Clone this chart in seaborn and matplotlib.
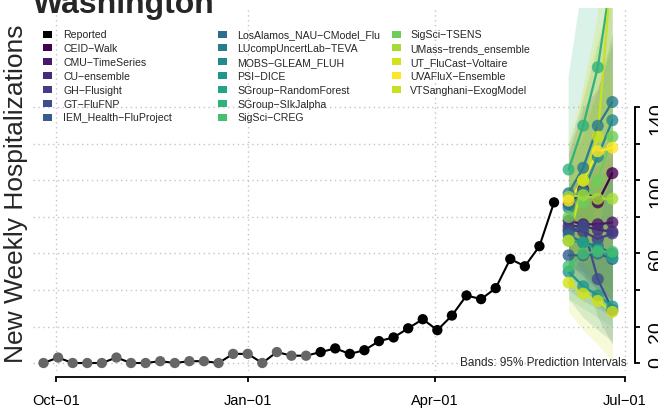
import numpy as np
import pandas as pd
import matplotlib
matplotlib.use("Agg")
import matplotlib.pyplot as plt
import matplotlib.dates as mdates
from matplotlib.patches import Rectangle
import seaborn as sns

# ---- data -------------------------------------------------------------
reported_start = "2021-09-25"
reported_values = [0, 3, 0, 0, 0, 3, 0, 0, 1, 0, 1, 1, 0, 5, 5, 0, 6, 4, 4, 6,
                   8, 5, 7, 12, 14, 19, 24, 18, 26, 37, 35, 41, 57, 53, 64, 88]
n_early_points = 19  # points drawn in grey at the start of the season

forecast_dates = ["2022-06-04", "2022-06-11", "2022-06-18", "2022-06-25"]

models = ["CEID-Walk", "CMU-TimeSeries", "CU-ensemble", "GH-Flusight", "GT-FluFNP",
          "IEM_Health-FluProject", "LosAlamos_NAU-CModel_Flu", "LUcompUncertLab-TEVA",
          "MOBS-GLEAM_FLUH", "PSI-DICE", "SGroup-RandomForest", "SGroup-SIkJalpha",
          "SigSci-CREG", "SigSci-TSENS", "UMass-trends_ensemble", "UT_FluCast-Voltaire",
          "UVAFluX-Ensemble", "VTSanghani-ExogModel"]

model_colors = ["#440154", "#481769", "#472A7A", "#433D84", "#3D4E8A", "#355E8D",
                "#2E6D8E", "#297B8E", "#23898E", "#1F978B", "#21A585", "#2EB37C",
                "#46C06F", "#6DCD59", "#A5DB36", "#D2E21B", "#FDE725", "#C8E020"]

forecast_median = {
    "CEID-Walk":                [87, 95, 88, 104],
    "CMU-TimeSeries":           [78, 76, 76, 77],
    "CU-ensemble":              [75, 75, 73, 72],
    "GH-Flusight":              [73, 72, 68, 71],
    "GT-FluFNP":                [72, 75, 46, 29],
    "IEM_Health-FluProject":    [59, 59, 60, 57],
    "LosAlamos_NAU-CModel_Flu": [70, 66, 64, 60],
    "LUcompUncertLab-TEVA":     [93, 107, 130, 143],
    "MOBS-GLEAM_FLUH":          [85, 94, 113, 133],
    "PSI-DICE":                 [50, 42, 37, 31],
    "SGroup-RandomForest":      [67, 66, 62, 58],
    "SGroup-SIkJalpha":         [106, 130, 162, 215],
    "SigSci-CREG":              [53, 60, 61, 61],
    "SigSci-TSENS":             [80, 88, 100, 124],
    "UMass-trends_ensemble":    [91, 92, 90, 90],
    "UT_FluCast-Voltaire":      [44, 38, 34, 28],
    "UVAFluX-Ensemble":         [89, 100, 116, 118],
    "VTSanghani-ExogModel":     [67, 100, 124, 222],
}
forecast_lower = {
    "CEID-Walk":                [62, 55, 45, 40],
    "CMU-TimeSeries":           [60, 50, 42, 35],
    "CU-ensemble":              [55, 48, 40, 34],
    "GH-Flusight":              [55, 47, 40, 35],
    "GT-FluFNP":                [52, 50, 25, 10],
    "IEM_Health-FluProject":    [40, 34, 30, 25],
    "LosAlamos_NAU-CModel_Flu": [50, 42, 36, 30],
    "LUcompUncertLab-TEVA":     [70, 75, 85, 90],
    "MOBS-GLEAM_FLUH":          [65, 68, 75, 82],
    "PSI-DICE":                 [35, 25, 18, 12],
    "SGroup-RandomForest":      [48, 40, 32, 25],
    "SGroup-SIkJalpha":         [80, 90, 100, 115],
    "SigSci-CREG":              [35, 30, 25, 20],
    "SigSci-TSENS":             [55, 55, 58, 62],
    "UMass-trends_ensemble":    [65, 55, 45, 35],
    "UT_FluCast-Voltaire":      [28, 18, 10, 1],
    "UVAFluX-Ensemble":         [60, 60, 62, 55],
    "VTSanghani-ExogModel":     [45, 60, 70, 110],
}
forecast_upper = {
    "CEID-Walk":                [115, 140, 150, 175],
    "CMU-TimeSeries":           [98, 104, 112, 120],
    "CU-ensemble":              [96, 102, 108, 114],
    "GH-Flusight":              [92, 98, 102, 108],
    "GT-FluFNP":                [92, 100, 70, 52],
    "IEM_Health-FluProject":    [80, 86, 92, 96],
    "LosAlamos_NAU-CModel_Flu": [90, 92, 96, 100],
    "LUcompUncertLab-TEVA":     [120, 145, 175, 200],
    "MOBS-GLEAM_FLUH":          [108, 125, 150, 180],
    "PSI-DICE":                 [66, 62, 60, 56],
    "SGroup-RandomForest":      [88, 94, 98, 102],
    "SGroup-SIkJalpha":         [157, 210, 260, 320],
    "SigSci-CREG":              [75, 90, 100, 110],
    "SigSci-TSENS":             [110, 130, 150, 180],
    "UMass-trends_ensemble":    [120, 135, 145, 160],
    "UT_FluCast-Voltaire":      [62, 60, 60, 58],
    "UVAFluX-Ensemble":         [125, 150, 180, 200],
    "VTSanghani-ExogModel":     [95, 150, 190, 330],
}

x_tick_dates = ["2021-10-01", "2022-01-01", "2022-04-01", "2022-07-01"]
x_tick_labels = ["Oct-01", "Jan-01", "Apr-01", "Jul-01"]
y_ticks = [0, 20, 40, 60, 80, 100, 120, 140]
y_tick_labels = ["0", "20", "", "60", "", "100", "", "140"]

title = "Washington"
y_label = "New Weekly Hospitalizations"
band_note = "Bands: 95% Prediction Intervals"

# ---- tables -----------------------------------------------------------
reported = pd.DataFrame({
    "date": pd.date_range(reported_start, periods=len(reported_values), freq="7D"),
    "value": reported_values,
})
reported["phase"] = ["early" if i < n_early_points else "recent" for i in range(len(reported))]

fdates = pd.to_datetime(forecast_dates)
fc = pd.DataFrame([
    {"model": m, "date": d, "median": v}
    for m in models for d, v in zip(fdates, forecast_median[m])
])
palette = dict(zip(models, model_colors))

# ---- figure -----------------------------------------------------------
sns.set_style("white", {"xtick.bottom": True, "ytick.right": True,
                        "axes.spines.right": True})
plt.rcParams["font.family"] = ["Liberation Sans", "DejaVu Sans"]

W, H = 658, 414
fig = plt.figure(figsize=(W / 100, H / 100), dpi=100)
left, right, top, bottom = 33, 628, 9, 372
ax = fig.add_axes([left / W, 1 - bottom / H, (right - left) / W, (bottom - top) / H])

oct1 = pd.Timestamp("2021-10-01")
ax.set_xlim(mdates.date2num(oct1 - pd.Timedelta(days=11.04)),
            mdates.date2num(oct1 + pd.Timedelta(days=274.5)))
ax.set_ylim(-4.38, 194.5)

# prediction bands
for m in models:
    ax.fill_between(fdates, forecast_lower[m], forecast_upper[m],
                    color=palette[m], alpha=0.17, lw=0, zorder=2)

# reported series
sns.lineplot(data=reported, x="date", y="value", color="black", lw=1.5,
             legend=False, ax=ax, zorder=3)
sns.scatterplot(data=reported, x="date", y="value", hue="phase",
                palette={"early": "#666666", "recent": "black"},
                s=55, edgecolor="none", legend=False, ax=ax, zorder=4)

# model medians
sns.lineplot(data=fc, x="date", y="median", hue="model", palette=palette,
             lw=1.6, legend=False, ax=ax, zorder=5)
sns.scatterplot(data=fc, x="date", y="median", hue="model", palette=palette,
                s=75, alpha=0.8, edgecolor="none", legend=False, ax=ax, zorder=6)

# axes styling
ax.set_xlabel("")
ax.set_ylabel("")
ax.set_xticks(mdates.date2num(pd.to_datetime(x_tick_dates)))
ax.set_xticklabels([t.replace("-", "\u2212") for t in x_tick_labels])
ax.yaxis.tick_right()
ax.set_yticks(y_ticks)
ax.set_yticklabels(y_tick_labels)

ax.spines["top"].set_visible(False)
ax.spines["left"].set_visible(False)
ax.spines["right"].set_position(("outward", 5))
ax.spines["bottom"].set_position(("outward", 4.3))
ax.spines["right"].set_bounds(0, 140)
ax.spines["bottom"].set_bounds(mdates.date2num(pd.Timestamp(x_tick_dates[0])),
                               mdates.date2num(pd.Timestamp(x_tick_dates[-1])))
for s in ["right", "bottom"]:
    ax.spines[s].set_linewidth(1.3)
    ax.spines[s].set_color("black")

# y axis line traced along the right spine's own transform
ax.plot([1, 1], [0, 140], transform=ax.spines["right"].get_spine_transform(),
        color="black", lw=1.3, clip_on=False, solid_capstyle="butt", zorder=10)

ax.tick_params(axis="x", direction="out", length=3.6, width=1.3, labelsize=10.5,
               pad=8, colors="black", bottom=True, top=False)
ax.tick_params(axis="y", direction="out", length=3.6, width=1.3, labelsize=14,
               pad=6, labelrotation=90, colors="black", right=True, left=False,
               labelright=True, labelleft=False)

ax.grid(True, color="#c4c4c4", linestyle=(0, (1, 2.5)), linewidth=1.0)
ax.set_axisbelow(True)

# titles and notes
fig.text(left / W, 1 - 13 / H, title, fontsize=23, fontweight="bold",
         ha="left", va="baseline")
fig.text(16 / W, 1 - 193.5 / H, y_label, rotation=90, fontsize=19,
         ha="center", va="center")
fig.text(627 / W, 1 - 363 / H, band_note, fontsize=8.5, ha="right", va="center")

# legend in three equal-width columns
legend_labels = ["Reported"] + models
legend_colors = ["black"] + model_colors
col_marker_x = [43, 218, 392]
col_text_x = [63, 237, 410]
rows_per_col = 7
for i, (lab, col) in enumerate(zip(legend_labels, legend_colors)):
    c, r = divmod(i, rows_per_col)
    yc = 35 + r * 13.9
    fig.add_artist(Rectangle((col_marker_x[c] / W, 1 - (yc + 3.5) / H), 9 / W, 7 / H,
                             transform=fig.transFigure, facecolor=col, lw=0))
    fig.text(col_text_x[c] / W, 1 - yc / H, lab.replace("-", "\u2212"),
             fontsize=7.6, ha="left", va="center")

fig.savefig("out.png", dpi=100)
